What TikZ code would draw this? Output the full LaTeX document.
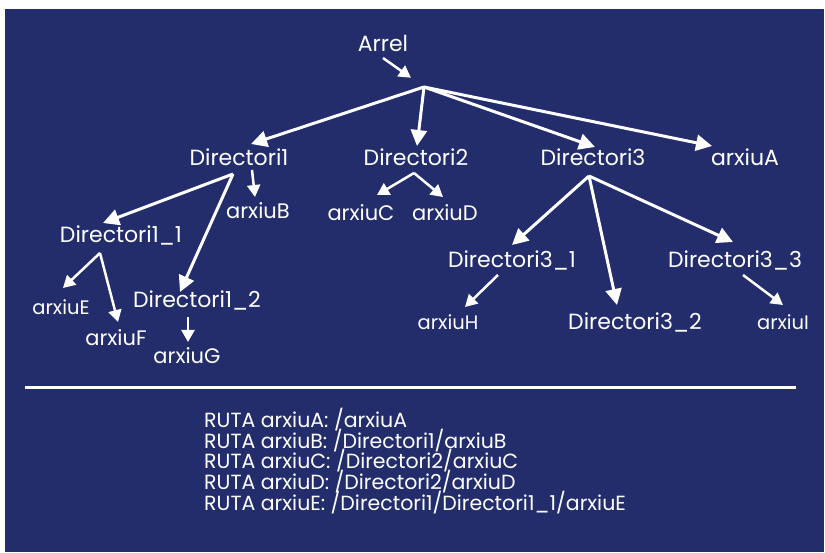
\documentclass[tikz,border=0pt]{standalone}
\usepackage{fontspec}
\setmainfont{Poppins}
\usepackage{tikz}
\usetikzlibrary{arrows.meta,calc,positioning}
\definecolor{bgblue}{RGB}{35,45,108}
\newcommand\rutafont{\fontsize{20.5}{20.6}\selectfont\lineskiplimit=-30pt\relax}
\tikzset{
  lbl/.style={text=white, inner sep=0pt, anchor=base, font=\fontsize{22}{24}\selectfont},
  mlbl/.style={lbl, font=\fontsize{21}{23}\selectfont},
  slbl/.style={lbl, font=\fontsize{19.5}{21}\selectfont},
  bigarr/.style={draw=white, line width=3pt, -{Triangle[length=16pt,width=16pt]}},
  smallarr/.style={draw=white, line width=2.5pt, -{Triangle[length=12pt,width=13pt]}},
}

\begin{document}
\begin{tikzpicture}[x=1pt,y=-1pt]
\useasboundingbox (0,0) rectangle (825,553);
\fill[white] (0,0) rectangle (825,553);
\fill[bgblue] (5,9) rectangle (824,552);

% labels
\node[lbl] (arrel) at (383,52) {Arrel};
\node[lbl] (dir1) at (239,166) {Directori1};
\node[lbl] (dir2) at (416,166) {Directori2};
\node[lbl] (dir3) at (593,166) {Directori3};
\node[lbl] (arxA) at (745,166) {arxiuA};
\node[mlbl] (arxB) at (258,219) {arxiuB};
\node[mlbl] (arxC) at (361,221) {arxiuC};
\node[mlbl] (arxD) at (445,221) {arxiuD};
\node[lbl] (dir11) at (121,243) {Directori1\_1};
\node[lbl] (dir12) at (197,308) {Directori1\_2};
\node[slbl] (arxE) at (61,315) {arxiuE};
\node[mlbl] (arxF) at (116,346) {arxiuF};
\node[mlbl] (arxG) at (187,363) {arxiuG};
\node[lbl] (dir31) at (512,268) {Directori3\_1};
\node[lbl] (dir32) at (635,330) {Directori3\_2};
\node[lbl] (dir33) at (735,268) {Directori3\_3};
\node[slbl] (arxH) at (448,330) {arxiuH};
\node[slbl] (arxI) at (783,330) {arxiuI};

% forks
\coordinate (root) at (424,87);
\coordinate (d1fork) at (233,174);
\coordinate (d2fork) at (414,173);
\coordinate (d3fork) at (589,176);
\coordinate (d11fork) at (100,253);

\draw[smallarr, shorten >=16pt] ([yshift=-6pt]arrel.base) -- (root);
\draw[bigarr] (root) -- ([shift={(12,-22)}]dir1.base);
\draw[bigarr] (root) -- ([shift={(1,-20)}]dir2.base);
\draw[bigarr] (root) -- ([shift={(2,-19)}]dir3.base);
\draw[bigarr] (root) -- ([shift={(-33,-20)}]arxA.base);

\draw[bigarr] (d1fork) -- ([shift={(-18,-20)}]dir11.base);
\draw[bigarr] (d1fork) -- ([shift={(-17,-16)}]dir12.base);
\draw[smallarr] ([shift={(13,4)}]dir1.base) -- ([shift={(-3,-22)}]arxB.base);

\draw[smallarr] (d2fork) -- ([shift={(16,-26)}]arxC.base);
\draw[smallarr] (d2fork) -- ([shift={(-2,-24)}]arxD.base);

\draw[bigarr] (d3fork) -- ([shift={(0,-23)}]dir31.base);
\draw[bigarr] (d3fork) -- ([shift={(-18,-25)}]dir32.base);
\draw[bigarr] (d3fork) -- ([shift={(-2,-26)}]dir33.base);

\draw[smallarr] (d11fork) -- ([shift={(2,-27)}]arxE.base);
\draw[smallarr] (d11fork) -- ([shift={(2,-24)}]arxF.base);
\draw[smallarr] ([shift={(-9,9)}]dir12.base) -- ([shift={(1,-21)}]arxG.base);
\draw[smallarr] ([shift={(-14,7)}]dir31.base) -- ([shift={(17,-23)}]arxH.base);
\draw[smallarr] ([shift={(8,7)}]dir33.base) -- ([shift={(0,-25)}]arxI.base);

\draw[white, line width=3pt] (25,388) -- (796,388);

\node[text=white, inner sep=0pt, anchor=base west, align=left, font=\rutafont]
  (rutes) at (204,510)
  {RUTA arxiuA: /arxiuA\\
   RUTA arxiuB: /Directori1/arxiuB\\
   RUTA arxiuC: /Directori2/arxiuC\\
   RUTA arxiuD: /Directori2/arxiuD\\
   RUTA arxiuE: /Directori1/Directori1\_1/arxiuE};
\end{tikzpicture}
\end{document}
